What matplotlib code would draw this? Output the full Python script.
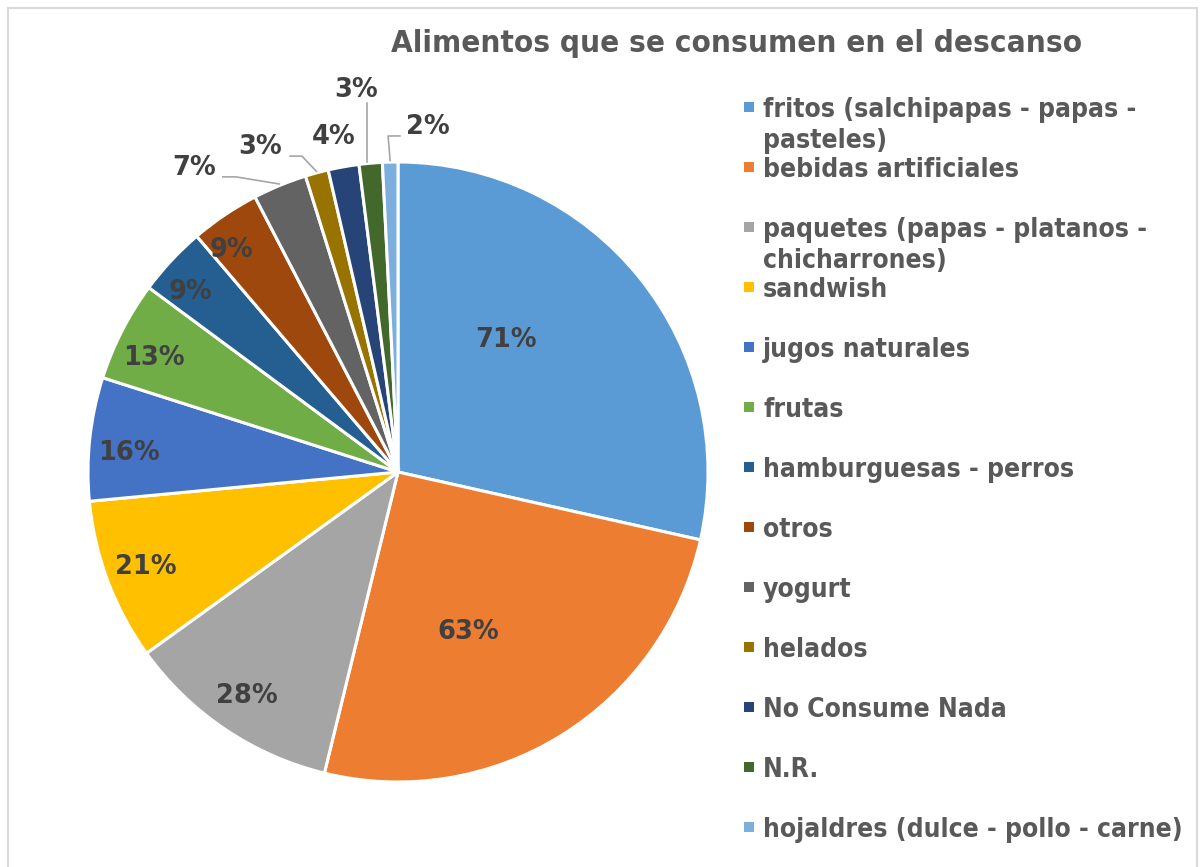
import matplotlib.pyplot as plt
import numpy as np
from matplotlib.patches import Rectangle

plt.rcParams['font.family'] = ['DejaVu Sans']

categorias = ['fritos (salchipapas - papas -\npasteles)', 'bebidas artificiales',
              'paquetes (papas - platanos -\nchicharrones)', 'sandwish', 'jugos naturales',
              'frutas', 'hamburguesas - perros', 'otros', 'yogurt', 'helados',
              'No Consume Nada', 'N.R.', 'hojaldres (dulce - pollo - carne)']
valores = [71, 63, 28, 21, 16, 13, 9, 9, 7, 3, 4, 3, 2]
colores = ['#5B9BD5', '#ED7D31', '#A5A5A5', '#FFC000', '#4472C4', '#70AD47', '#255E91',
           '#9E480E', '#636363', '#997300', '#264478', '#43682B', '#7CAFDD']

W, H = 1201, 867
fig = plt.figure(figsize=(W / 100, H / 100), dpi=100)

# marco gris del grafico
fig.patches.append(Rectangle((8 / W, -0.1), (1197 - 8) / W, 1.1 - 8 / H, transform=fig.transFigure,
                             fill=False, edgecolor='#D9D9D9', linewidth=1.5))

cx, cy, R = 398, 472, 310
ax = fig.add_axes([(cx - R) / W, (H - cy - R) / H, 2 * R / W, 2 * R / H])
wedges, _ = ax.pie(valores, colors=colores, startangle=90, counterclock=False,
                   wedgeprops=dict(edgecolor='white', linewidth=2.2))
ax.set_xlim(-1, 1)
ax.set_ylim(-1, 1)
ax.set_aspect('equal')

fuente = dict(fontweight='bold', color='#404040', fontsize=18.5)

# etiquetas dentro de las porciones: (radio, desplazamiento angular)
dentro = {0: (0.55, 12), 1: (0.565, -8), 2: (0.87, 0), 3: (0.87, 0), 4: (0.87, 2),
          5: (0.87, 2), 6: (0.885, 2), 7: (0.895, 3)}
for i, (r, d) in dentro.items():
    w = wedges[i]
    a = np.deg2rad((w.theta1 + w.theta2) / 2 + d)
    ax.text(r * np.cos(a), r * np.sin(a), f'{valores[i]}%', ha='center', va='center', **fuente)

# etiquetas fuera con lineas guia
fuera = {8: (-0.658, 0.981), 9: (-0.445, 1.048), 10: (-0.206, 1.081),
         11: (-0.135, 1.232), 12: (0.097, 1.113)}
guias = {8: [(-0.523, 0.952), (-0.565, 0.952)],
         9: [(-0.310, 1.019), (-0.348, 1.019)],
         11: [(-0.100, 1.190)],
         12: [(-0.032, 1.084), (0.006, 1.084)]}
for i, (tx, ty) in fuera.items():
    w = wedges[i]
    a = np.deg2rad((w.theta1 + w.theta2) / 2)
    if i in guias:
        x0, y0 = np.cos(a) * 1.005, np.sin(a) * 1.005
        if i == 11:
            x0 = guias[i][0][0]
        pts = [(x0, y0)] + guias[i]
        ax.plot([p[0] for p in pts], [p[1] for p in pts], color='#A6A6A6', lw=1.2,
                clip_on=False)
    ax.text(tx, ty, f'{valores[i]}%', ha='center', va='center', clip_on=False, **fuente)

fig.text(736.5 / W, 1 - 52 / H, 'Alimentos que se consumen en el descanso', ha='center',
         va='baseline', fontsize=22.5, fontweight='bold', fontstretch='condensed', color='#595959')

# leyenda
for k, (nombre, col) in enumerate(zip(categorias, colores)):
    base = 117 + 60 * k
    fig.patches.append(Rectangle((744 / W, 1 - (base - 5) / H), 10 / W, 10 / H,
                                 transform=fig.transFigure, facecolor=col, edgecolor='none'))
    for j, linea in enumerate(nombre.split('\n')):
        fig.text(763 / W, 1 - (base + 31 * j) / H, linea, ha='left', va='baseline',
                 fontsize=19, fontweight='bold', fontstretch='condensed', color='#595959')

fig.savefig('out.png', dpi=100, facecolor='white')
